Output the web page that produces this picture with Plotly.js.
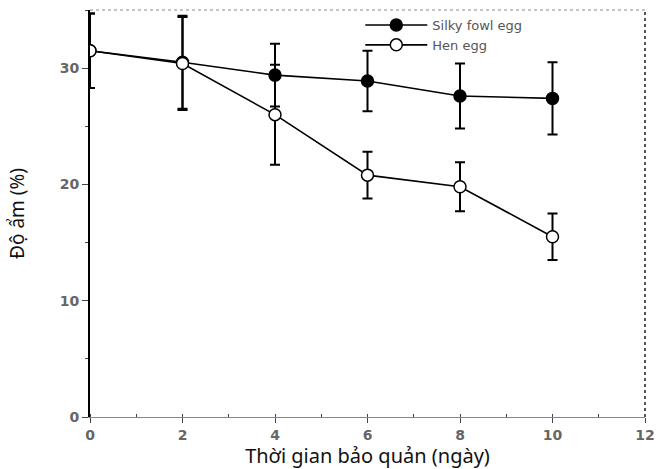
<!DOCTYPE html>
<html><head><meta charset="utf-8">
<script src="https://cdn.plot.ly/plotly-3.0.1.min.js"></script>
<style>html,body{margin:0;padding:0;background:#fff}</style>
</head><body>
<div id="chart" style="width:658px;height:469px"></div>
<script>
const days = [0, 2, 4, 6, 8, 10];
const silky = [31.5, 30.5, 29.4, 28.9, 27.6, 27.4];
const silkyErr = [3.2, 4.0, 2.7, 2.6, 2.8, 3.1];
const hen = [31.5, 30.4, 26.0, 20.8, 19.8, 15.5];
const henErr = [3.2, 4.0, 4.3, 2.0, 2.1, 2.0];
const xTicks = [0, 2, 4, 6, 8, 10, 12];
const yTicks = [0, 10, 20, 30];

const common = {
  type: 'scatter', mode: 'lines+markers', x: days,
  line: {color: '#000', width: 1.6}
};
const traces = [
  Object.assign({}, common, {
    name: 'Silky fowl egg', y: silky,
    error_y: {type: 'data', array: silkyErr, visible: true, color: '#000', thickness: 2, width: 5},
    marker: {symbol: 'circle', size: 12, color: '#000', line: {color: '#000', width: 1.5}}
  }),
  Object.assign({}, common, {
    name: 'Hen egg', y: hen,
    error_y: {type: 'data', array: henErr, visible: true, color: '#000', thickness: 2, width: 5},
    marker: {symbol: 'circle', size: 12, color: '#fff', line: {color: '#000', width: 1.5}}
  })
];

const tickFont = {family: 'DejaVu Sans, Arial, sans-serif', size: 14, color: '#666', weight: 700};
const layout = {
  width: 658, height: 469,
  margin: {l: 90, r: 13, t: 10, b: 52},
  paper_bgcolor: '#fff', plot_bgcolor: '#fff',
  showlegend: true,
  legend: {x: 0.487, y: 1.0, xanchor: 'left', yanchor: 'top', itemwidth: 62,
    bgcolor: 'rgba(0,0,0,0)', tracegroupgap: 0,
    font: {family: 'DejaVu Sans, Arial, sans-serif', size: 13, color: '#555'}},
  xaxis: {
    range: [0, 12], tickvals: xTicks, ticktext: xTicks.map(String),
    ticks: 'outside', ticklen: 5, tickcolor: '#444', tickwidth: 1,
    showgrid: false, zeroline: false, showline: true, linecolor: '#888', linewidth: 1,
    tickfont: tickFont,
    minor: {dtick: 1, ticks: 'inside', ticklen: 3, tickcolor: '#444', showgrid: false},
    title: {text: 'Thời gian bảo quản (ngày)', standoff: 6,
      font: {family: 'Noto Sans, sans-serif', size: 20, color: '#111'}}
  },
  yaxis: {
    range: [0, 35], tickvals: yTicks, ticktext: yTicks.map(String),
    ticks: 'outside', ticklen: 6, tickcolor: '#444', tickwidth: 1,
    showgrid: false, zeroline: false, showline: true, linecolor: '#000', linewidth: 2,
    tickfont: tickFont,
    minor: {dtick: 5, ticks: 'outside', ticklen: 3, tickcolor: '#444', showgrid: false},
    title: {text: 'Độ ẩm (%)', standoff: 30,
      font: {family: 'Noto Sans, sans-serif', size: 19, color: '#111'}}
  },
  shapes: [
    {type: 'line', xref: 'paper', yref: 'paper', x0: 0, x1: 1, y0: 1, y1: 1,
      line: {color: '#888', width: 1, dash: 'dot'}},
    {type: 'line', xref: 'paper', yref: 'paper', x0: 1, x1: 1, y0: 0, y1: 1,
      line: {color: '#555', width: 2, dash: 'dot'}}
  ]
};
Plotly.newPlot('chart', traces, layout, {displayModeBar: false, staticPlot: true});
</script>
</body></html>
